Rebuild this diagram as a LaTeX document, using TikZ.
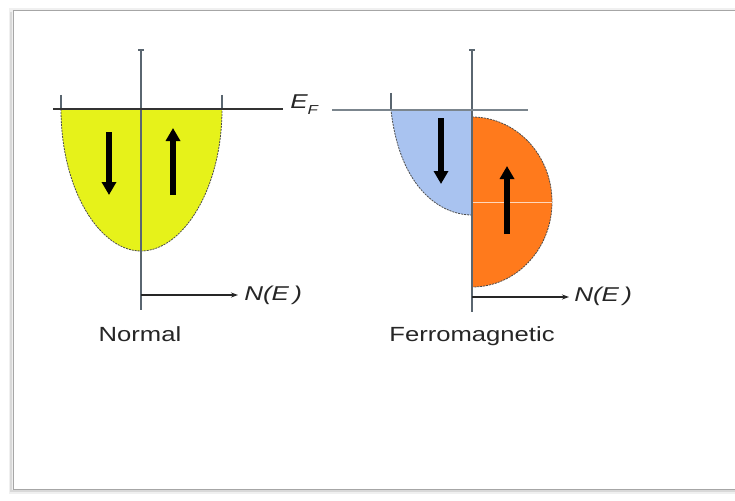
\documentclass[tikz,border=0pt]{standalone}
\usepackage{fontspec}
\setmainfont{Liberation Sans}
\usetikzlibrary{arrows.meta}
\definecolor{yel}{HTML}{E6F21A}
\definecolor{blu}{HTML}{A9C3F0}
\definecolor{org}{HTML}{FF7A1C}
\definecolor{axc}{HTML}{5A6670}
\begin{document}
\begin{tikzpicture}[x=1pt,y=-1pt,
  axis/.style={draw=axc,line width=1.2pt},
  efline/.style={draw=black!80,line width=1.4pt},
  edge/.style={draw=black!70,line width=0.8pt,dash pattern=on 2pt off 1pt},
  spin/.style={line width=6pt,-{Triangle[width=14pt,length=13pt]}},
  naxis/.style={draw=black!85,line width=1.3pt,-{Stealth[length=7pt,width=5pt]}},
  lab/.style={font=\fontsize{20.5}{24}\selectfont,inner sep=0pt,xscale=1.25,text=black!85},
  nel/.style={font=\fontsize{20}{22}\selectfont\itshape,inner sep=0pt,anchor=west,xscale=1.3,text=black!85},
  tick/.style={draw=axc,line width=1.2pt}]
\useasboundingbox (0,0) rectangle (735,500);
\clip (0,0) rectangle (735,500);
% frame with shadow
\fill[black!6] (9,8) rectangle (760,494);
\fill[white] (13,11) rectangle (760,489);
\draw[black!35,line width=1pt] (760,11) -- (13,11) -- (13,489) -- (760,489);
\draw[black!15,line width=1.5pt] (11,12) -- (11,491) -- (760,491);

% ---------- Normal ----------
\coordinate (a1t) at (141,50);
\coordinate (a1b) at (141,310);
\fill[yel] (61,109) .. controls (61,190) and (100,251) .. (141,251) .. controls (182,251) and (222,190) .. (222,109) -- cycle;
\draw[edge] (61,109) .. controls (61,190) and (100,251) .. (141,251) .. controls (182,251) and (222,190) .. (222,109);
\draw[axis] (a1t) -- (a1b);
\draw[tick] (138,50) -- (144,50);
\draw[tick] (61,95) -- (61,109);
\draw[tick] (222,95) -- (222,109);
\coordinate (ef1a) at (53,109);
\coordinate (ef1b) at (283,109);
\draw[efline] (ef1a) -- (ef1b);
\node[font=\fontsize{20}{22}\selectfont\itshape,inner sep=0pt,anchor=west,xscale=1.3,text=black!85] (ef) at (290,105) {E\raisebox{-6pt}{\fontsize{13}{14}\selectfont F}};
\coordinate (d1s) at (109,132);
\coordinate (d1e) at (109,195);
\draw[spin] (d1s) -- (d1e);
\coordinate (u1s) at (173,195);
\coordinate (u1e) at (173,128);
\draw[spin] (u1s) -- (u1e);
\coordinate (n1s) at (141,295);
\coordinate (n1e) at (238,295);
\draw[naxis] (n1s) -- (n1e);
\node[nel] (ne1) at (244,295) {N(E\,)};
\node[lab] (normal) at (140,334) {Normal};

% ---------- Ferromagnetic ----------
\coordinate (a2t) at (472,50);
\coordinate (a2b) at (472,312);
\fill[blu] (391,110) -- (472,110) -- (472,215) .. controls (442,215) and (400,190) .. (391,110) -- cycle;
\draw[edge] (472,215) .. controls (442,215) and (400,190) .. (391,110);
\fill[org] (472,117) arc[start angle=-90,end angle=90,x radius=80,y radius=85] -- cycle;
\draw[edge] (472,117) arc[start angle=-90,end angle=90,x radius=80,y radius=85];
\draw[white!70!org,line width=1pt] (472,202) -- (552,202);
\draw[axis] (a2t) -- (a2b);
\draw[tick] (469,50) -- (475,50);
\draw[tick] (391,93) -- (391,110);
\coordinate (ef2a) at (332,110);
\coordinate (ef2b) at (528,110);
\draw[draw=axc!80,line width=1.3pt] (ef2a) -- (ef2b);
\coordinate (d2s) at (441,118);
\coordinate (d2e) at (441,184);
\draw[spin] (d2s) -- (d2e);
\coordinate (u2s) at (507,234);
\coordinate (u2e) at (507,166);
\draw[spin] (u2s) -- (u2e);
\coordinate (n2s) at (472,297);
\coordinate (n2e) at (569,297);
\draw[naxis] (n2s) -- (n2e);
\node[nel] (ne2) at (574,296) {N(E\,)};
\node[lab] (ferro) at (472,336) {Ferromagnetic};
\end{tikzpicture}
\end{document}
